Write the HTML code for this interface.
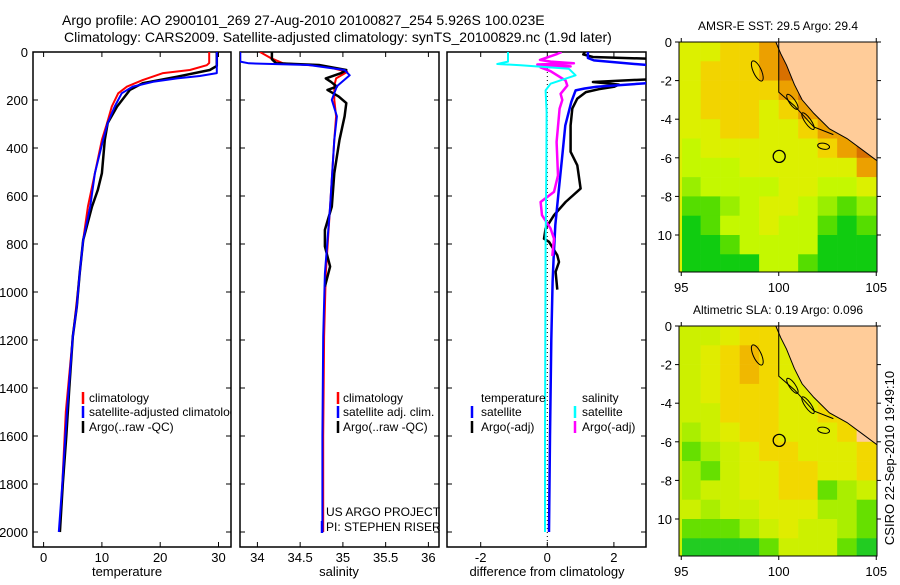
<!DOCTYPE html>
<html><head><meta charset="utf-8"><style>
body{margin:0;background:#fff}
svg text{font-family:"Liberation Sans",sans-serif;fill:#000}
</style></head><body>
<svg id="fig" width="900" height="580" viewBox="0 0 900 580" xmlns="http://www.w3.org/2000/svg">
<defs>
<clipPath id="c1"><rect x="33" y="52" width="198" height="495"/></clipPath>
<clipPath id="c2"><rect x="240" y="52" width="199" height="495"/></clipPath>
<clipPath id="c3"><rect x="447" y="52" width="199" height="495"/></clipPath>
<clipPath id="cm1"><rect x="679" y="42" width="198" height="230"/></clipPath>
<clipPath id="cm2"><rect x="679" y="326" width="198" height="230"/></clipPath>
</defs>
<text x="62" y="25" font-size="14">Argo profile: AO 2900101_269 27-Aug-2010 20100827_254 5.926S 100.023E</text>
<text x="64" y="42" font-size="14">Climatology: CARS2009. Satellite-adjusted climatology: synTS_20100829.nc (1.9d later)</text>
<g id="g"></g>
</svg>
<script>
// ---- profile data (depth in dbar) ----
const tDepthRed=[0,46,55,75,88,117,144,172,227,296,366,505,644,783,922,1061,1186,1500,1800,2000];
const tRed=[28.4,28.4,28.0,25.1,20.5,17.0,14.3,12.8,11.7,10.9,10.0,8.8,7.6,6.8,6.2,5.6,5.0,3.8,3.2,2.8];
const tDepthBlue=[0,88,100,110,124,144,172,227,296,366,505,644,783,922,1061,1186,1500,1800,2000];
const tBlue=[29.7,29.7,26.8,22.9,18.8,15.3,13.4,12.2,11.0,10.2,8.8,8.0,6.8,6.2,5.7,5.0,4.0,3.2,2.6];
const tDepthBlack=[0,58,75,103,130,158,227,296,366,505,575,644,783,922,1061,1186,1400,1600,1800,2000];
const tBlack=[29.7,29.7,28.5,22.9,17.0,14.8,12.6,11.0,10.5,10.0,9.3,8.3,6.8,6.2,5.7,5.0,4.4,3.9,3.3,2.8];

const sDepthRed=[0,24,47,60,83,110,140,199,268,366,644,922,1186,1600,2000];
const sRed=[34.03,34.15,34.30,34.80,35.05,34.92,34.90,34.90,34.92,34.90,34.85,34.80,34.78,34.77,34.77];
const sDepthBlue=[0,40,47,54,75,97,143,199,268,366,644,922,1186,1600,2000];
const sBlue=[33.80,33.80,33.90,34.60,35.02,35.08,34.93,34.87,34.93,34.90,34.85,34.79,34.77,34.76,34.76];
const sDepthBlack=[0,30,47,54,75,88,110,124,144,158,185,213,268,366,505,644,741,810,894,977];
const sBlack=[34.17,34.17,34.22,34.72,35.04,34.98,34.80,34.86,34.93,34.82,34.95,35.04,35.02,34.96,34.90,34.87,34.79,34.79,34.85,34.79];

const dDepthTSat=[0,25,35,45,60,125,145,152,160,208,306,444,583,722,861,958,1200,1600,2000];
const dTSat=[1.22,1.22,1.4,2.2,3.5,3.5,1.48,1.12,0.85,0.72,0.54,0.44,0.34,0.24,0.19,0.16,0.12,0.08,0.05];
const dDepthTArgo=[0,10,21,30,111,125,130,136,145,155,167,194,236,306,416,472,569,625,680,736,778,791,847,875,916,990];
const dTArgo=[1.13,1.08,1.37,3.5,3.5,1.37,1.75,2.15,2.0,1.55,1.16,0.9,0.75,0.7,0.7,0.9,1.0,0.55,0.2,-0.05,-0.1,0.05,0.3,0.35,0.25,0.3];
const dDepthSSat=[0,40,50,55,70,97,132,160,250,500,800,1200,1600,2000];
const dSSat=[-1.18,-1.18,-1.5,-0.8,0.65,0.85,0.1,-0.05,-0.02,-0.03,-0.05,-0.06,-0.07,-0.07];
const dDepthSArgo=[0,8,33,40,47,52,60,64,80,119,140,174,200,236,375,514,583,625,680,736,778,819,850];
const dSArgo=[0.43,0.3,-0.22,0.1,0.8,-0.3,0.7,-0.2,0.1,0.55,0.6,0.4,0.45,0.37,0.28,0.32,0.2,-0.2,-0.16,0.1,0.2,0.17,0.15];

const depthTicks=[0,200,400,600,800,1000,1200,1400,1600,1800,2000];
const tempTicks=[0,10,20,30];
const salTicks=[34,34.5,35,35.5,36];
const salTickLabels=["34","34.5","35","35.5","36"];
const diffTicks=[-2,0,2];

// ---- map data: 10 cols (95..105E, 1deg) x 12 rows (0..-12) ----
const sstGrid=["YYooORRLLL","YoooORRLLL","YooooOROLL","YoooYoORLL","YYooYYoOOL","yYYYYYYoOR","yyyYYYYYYO","lyyyyYYyyY","gglyYYylgl","GgyyYyygGg","GGgyyyyGGG","GGGGyygGGG"];
const slaGrid=["yyYooYYLLL","yYoOoYyLLL","yYoOoYYyLL","yYoooYYYLL","yyoooYYooL","lyYooYYYoL","glyYooYYYo","lgyYYooYYo","lyyYYoogly","ylyyYYYllg","ggglyYyylg","GGGGgyyygG"];
const sstColors={G:"#10cc10",g:"#55dd00",l:"#99ee00",y:"#c4f800",Y:"#dcf000",o:"#f2d400",O:"#eca000",R:"#d87000",L:"#ffcc99"};
const slaColors={G:"#22cc22",g:"#66e000",l:"#aaee00",y:"#ccf000",Y:"#e0ec00",o:"#f2d800",O:"#f0b800",L:"#ffcc99"};
const landLon=[99.85,105.1,105.1,104.3,103.5,102.6,101.8,101.2,100.8,100.4,100.1];
const landLat=[0,0,-6.2,-5.6,-5.0,-4.5,-3.7,-3.0,-2.2,-1.2,-0.6];

const NS="http://www.w3.org/2000/svg";
const G=document.getElementById('g');
function el(tag,attrs,parent){const e=document.createElementNS(NS,tag);for(const k in attrs)e.setAttribute(k,attrs[k]);(parent||G).appendChild(e);return e;}
const yD=d=>52+0.24*d;
const xT=t=>43.6+5.83*t;
const xS=s=>257.4+85.5*(s-34);
const xDf=v=>547.3+33.3*v;

function panel(x0,x1,name){
  const r=el('rect',{x:x0,y:52,width:x1-x0,height:495,fill:'none',stroke:'#000','stroke-width':1.5});
  
  
  depthTicks.forEach(d=>{
    el('line',{x1:x0,x2:x0+5,y1:yD(d),y2:yD(d),stroke:'#000'});
    el('line',{x1:x1-5,x2:x1,y1:yD(d),y2:yD(d),stroke:'#000'});
  });
}
function xticks(vals,labels,fx,label,lx){
  vals.forEach((v,i)=>{
    el('line',{x1:fx(v),x2:fx(v),y1:547,y2:542,stroke:'#000'});
    el('line',{x1:fx(v),x2:fx(v),y1:52,y2:57,stroke:'#000'});
    const t=el('text',{x:fx(v),y:562,'font-size':13,'text-anchor':'middle'});
    t.textContent=labels[i];
    
    
  });
  const t=el('text',{x:lx,y:576,'font-size':13,'text-anchor':'middle'});
  t.textContent=label;
  
  
}
function line(ds,vs,fx,color,w,clip,name){
  const p=el('polyline',{points:ds.map((d,i)=>fx(vs[i]).toFixed(1)+','+yD(d).toFixed(1)).join(' '),fill:'none',stroke:color,'stroke-width':w,'clip-path':'url(#'+clip+')','stroke-linejoin':'round'});
  
  
}
function txt(x,y,s,name,size){const t=el('text',{x:x,y:y,'font-size':size||12});t.textContent=s;
  
  
  return t;}
function mark(x,y,c){el('line',{x1:x,x2:x,y1:y-6,y2:y+6,stroke:c,'stroke-width':2.5});}

panel(33,231,'temperature-panel');
panel(240,439,'salinity-panel');
panel(447,646,'difference-panel');
depthTicks.forEach(d=>{const t=el('text',{x:28,y:yD(d)+5,'font-size':13,'text-anchor':'end'});t.textContent=d;
  
  });
xticks(tempTicks,tempTicks.map(String),xT,'temperature',127);
xticks(salTicks,salTickLabels,xS,'salinity',339);
xticks(diffTicks,diffTicks.map(String),xDf,'difference from climatology',547);

el('line',{x1:xDf(0),x2:xDf(0),y1:52,y2:547,stroke:'#000','stroke-dasharray':'1,3'});

line(tDepthRed,tRed,xT,'#f00',2,'c1','temp-climatology-line');
line(tDepthBlack,tBlack,xT,'#000',2.5,'c1','temp-argo-line');
line(tDepthBlue,tBlue,xT,'#00f',2,'c1','temp-satellite-line');
line(sDepthRed,sRed,xS,'#f00',2,'c2','sal-climatology-line');
line(sDepthBlack,sBlack,xS,'#000',2.5,'c2','sal-argo-line');
line(sDepthBlue,sBlue,xS,'#00f',2,'c2','sal-satellite-line');
line(dDepthTArgo,dTArgo,xDf,'#000',2.5,'c3','diff-temp-argo-line');
line(dDepthTSat,dTSat,xDf,'#00f',2.5,'c3','diff-temp-satellite-line');
line(dDepthSArgo,dSArgo,xDf,'#f0f',2.5,'c3','diff-sal-argo-line');
line(dDepthSSat,dSSat,xDf,'#0ff',2,'c3','diff-sal-satellite-line');

mark(83,398,'#f00');mark(83,412,'#00f');mark(83,427,'#000');
txt(89,402,'climatology','legend-climatology');
const lt=txt(89,416,'satellite-adjusted climatology','legend-satellite-adjusted');lt.setAttribute('clip-path','url(#c1)');
txt(89,431,'Argo(..raw -QC)','legend-argo');
mark(338,398,'#f00');mark(338,412,'#00f');mark(338,427,'#000');
txt(343,402,'climatology','legend-climatology');
txt(343,416,'satellite adj. clim.','legend-satellite');
txt(343,431,'Argo(..raw -QC)','legend-argo');
txt(481,402,'temperature','legend-temperature-header');
txt(582,402,'salinity','legend-salinity-header');
mark(472,412,'#00f');mark(472,427,'#000');mark(575,412,'#0ff');mark(575,427,'#f0f');
txt(481,416,'satellite','legend-temp-satellite');
txt(481,431,'Argo(-adj)','legend-temp-argo');
txt(582,416,'satellite','legend-sal-satellite');
txt(582,431,'Argo(-adj)','legend-sal-argo');
mark(322,527,'#00f');
txt(326,516,'US ARGO PROJECT','project-label');
txt(326,531,'PI: STEPHEN RISER','pi-label');

const lonX=lon=>679.3+19.5*(lon-94.9);
function drawMap(grid,colors,y0,clip,title,name){
  const latY=lat=>y0-19.3*lat;
  grid.forEach((row,r)=>{
    [...row].forEach((c,k)=>{
      const cell=el('rect',{x:lonX(95+k)-0.1,y:latY(-r),width:19.8,height:19.6,fill:colors[c],'clip-path':'url(#'+clip+')'});
      
      
    });
  });
  el('rect',{x:679,y:y0,width:3,height:230,fill:colors[grid[0][0]],'clip-path':'url(#'+clip+')'});
  const land=el('polygon',{points:landLon.map((l,i)=>lonX(l)+','+latY(landLat[i])).join(' '),fill:'#ffcc99',stroke:'#000','stroke-width':1,'clip-path':'url(#'+clip+')'});
  
  
  el('polyline',{points:[[100,0],[100,-2.6],[100.8,-3.3],[101.8,-4.4],[102.8,-4.8]].map(p=>lonX(p[0])+','+latY(p[1])).join(' '),fill:'none',stroke:'#000','clip-path':'url(#'+clip+')'});
  [[98.9,-1.5,4,11,-25],[100.7,-3.1,3,9,-35],[101.5,-4.1,3,10,-35],[102.3,-5.4,6,3,10]].forEach(e=>{
    el('ellipse',{cx:lonX(e[0]),cy:latY(e[1]),rx:e[2],ry:e[3],transform:'rotate('+e[4]+' '+lonX(e[0])+' '+latY(e[1])+')',fill:'none',stroke:'#000'});
  });
  const c=el('circle',{cx:lonX(100.023),cy:latY(-5.926),r:6,fill:'none',stroke:'#000','stroke-width':1.3});
  
  
  const fr=el('rect',{x:679,y:y0,width:198,height:230,fill:'none',stroke:'#000'});
  
  
  [0,-2,-4,-6,-8,-10].forEach(l=>{
    el('line',{x1:675,x2:679,y1:latY(l),y2:latY(l),stroke:'#000'});
    el('line',{x1:877,x2:881,y1:latY(l),y2:latY(l),stroke:'#000'});
    const t=el('text',{x:672,y:latY(l)+5,'font-size':13,'text-anchor':'end'});t.textContent=l===-10?'10':String(l);
    
    
  });
  [95,100,105].forEach(l=>{
    el('line',{x1:lonX(l),x2:lonX(l),y1:y0+230,y2:y0+234,stroke:'#000'});
    el('line',{x1:lonX(l),x2:lonX(l),y1:y0,y2:y0-4,stroke:'#000'});
    const t=el('text',{x:lonX(l),y:y0+250,'font-size':13,'text-anchor':'middle'});t.textContent=l;
    
    
  });
  const t=el('text',{x:778,y:y0-12,'font-size':12,'text-anchor':'middle'});t.textContent=title;
  
  
}
drawMap(sstGrid,sstColors,42,'cm1','AMSR-E SST: 29.5 Argo: 29.4','sst-map');
drawMap(slaGrid,slaColors,326,'cm2','Altimetric SLA: 0.19 Argo: 0.096','sla-map');
const cs=el('text',{x:894,y:458,'font-size':13,'text-anchor':'middle',transform:'rotate(-90 894 458)'});
cs.textContent='CSIRO 22-Sep-2010 19:49:10';


</script>
</body></html>
